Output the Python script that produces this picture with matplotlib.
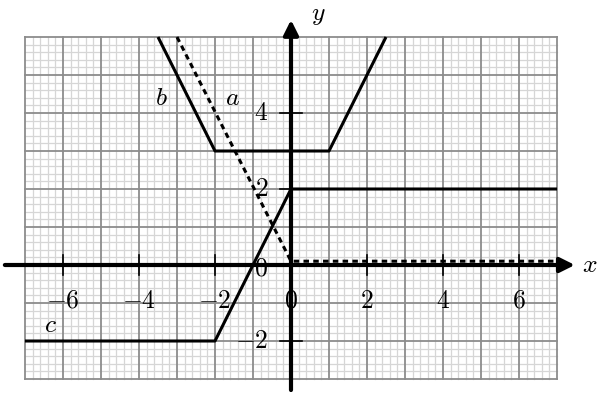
import numpy as np
import matplotlib
matplotlib.use('Agg')
from matplotlib import pyplot as plt

plt.rcParams['mathtext.fontset'] = 'cm'
plt.rcParams['font.family'] = 'serif'
plt.rcParams['font.serif'] = ['DejaVu Serif']

# curve data
a_x = [-3, 0, 7]
a_y = [6, 0.1, 0.1]
b_x = [-3.5, -2, 1, 2.5]
b_y = [6, 3, 3, 6]
c_x = [-7, -2, 0, 7]
c_y = [-2, -2, 2, 2]

x_ticks = [-6, -4, -2, 0, 2, 4, 6]
y_ticks = [-2, 0, 2, 4]

fig = plt.figure(figsize=(5.99, 3.95), dpi=100)
ax = fig.add_axes([0, 0, 1, 1])
ax.set_xlim(-291 / 38, 308 / 38)
ax.set_ylim(-130 / 38, 265 / 38)
ax.axis('off')

# graph paper
for v in np.arange(-7, 7.01, 0.2):
    if abs(v - round(v)) > 1e-6:
        ax.plot([v, v], [-3, 6], color='#d6d6d6', lw=0.9, zorder=1)
for v in np.arange(-3, 6.01, 0.2):
    if abs(v - round(v)) > 1e-6:
        ax.plot([-7, 7], [v, v], color='#d6d6d6', lw=0.9, zorder=1)
for v in range(-7, 8):
    ax.plot([v, v], [-3, 6], color='#8c8c8c', lw=1.3, zorder=2)
for v in range(-3, 7):
    ax.plot([-7, 7], [v, v], color='#8c8c8c', lw=1.3, zorder=2)

# curves
ax.plot(b_x, b_y, color='k', lw=2.2, zorder=4, solid_capstyle='butt')
ax.plot(c_x, c_y, color='k', lw=2.2, zorder=4, solid_capstyle='butt')
ax.plot(a_x, a_y, color='k', lw=2.2, ls=(0, (1.8, 1.4)), zorder=4)

# axes with arrows
ax.annotate('', xy=(7.47, 0), xytext=(-7.53, 0),
            arrowprops=dict(arrowstyle='-|>', lw=3, color='k',
                            mutation_scale=22, shrinkA=0, shrinkB=0), zorder=5)
ax.annotate('', xy=(0, 6.45), xytext=(0, -3.29),
            arrowprops=dict(arrowstyle='-|>', lw=3, color='k',
                            mutation_scale=22, shrinkA=0, shrinkB=0), zorder=5)

# ticks and labels
for t in x_ticks:
    if t != 0:
        ax.plot([t, t], [-0.27, 0.27], color='k', lw=1.2, zorder=5)
    ax.text(t, -0.93, '$%d$' % t, ha='center', va='center', fontsize=18.5, zorder=3)
for t in y_ticks:
    if t != 0:
        ax.plot([-0.28, 0.28], [t, t], color='k', lw=1.2, zorder=5)
    ax.text(-0.6, t - (0.08 if t == 0 else 0), '$%d$' % t, ha='right', va='center',
            fontsize=18.5, zorder=3)

ax.text(7.87, 0, '$x$', ha='center', va='center', fontsize=18.5)
ax.text(0.71, 6.58, '$y$', ha='center', va='center', fontsize=18.5)
ax.text(-3.4, 4.42, '$b$', ha='center', va='center', fontsize=18.5, zorder=6)
ax.text(-1.55, 4.42, '$a$', ha='center', va='center', fontsize=18.5, zorder=6)
ax.text(-6.34, -1.56, '$c$', ha='center', va='center', fontsize=18.5, zorder=6)

fig.savefig('out.png', dpi=100)
